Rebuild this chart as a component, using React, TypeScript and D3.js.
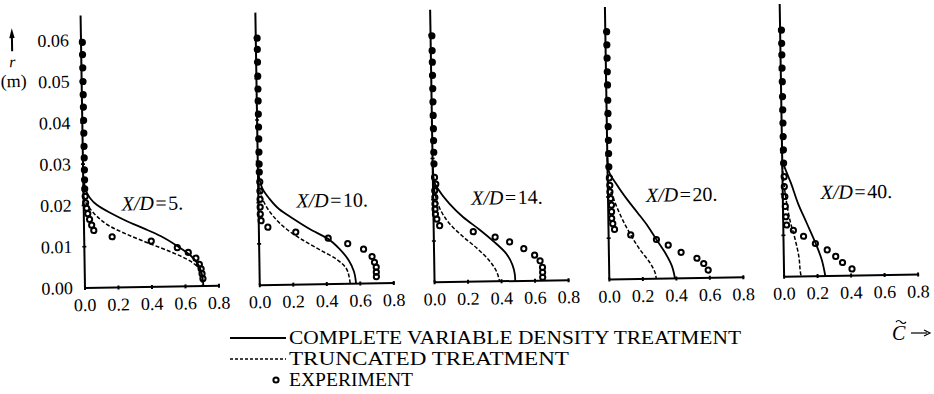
import React from "react";
import * as d3 from "d3";

// Axial stations (X/D) shown in the five panels
const stations = ["5.", "10.", "14.", "20.", "40."];
const xTicks = [0, 0.2, 0.4, 0.6, 0.8];
const rTicks = [0, 0.01, 0.02, 0.03, 0.04, 0.05, 0.06];

// [C~, r (m)] pairs
const complete5 = [[0, 0.027], [0.018, 0.0233], [0.078, 0.0201], [0.157, 0.0181], [0.257, 0.016], [0.356, 0.0142], [0.456, 0.0123], [0.555, 0.0098], [0.635, 0.0074], [0.679, 0.0052], [0.7, 0.0027], [0.707, 0]];
const truncated5 = [[0, 0.025], [0.002, 0.022], [0.028, 0.0197], [0.078, 0.0173], [0.157, 0.0148], [0.257, 0.0128], [0.396, 0.0104], [0.516, 0.0084], [0.635, 0.006], [0.685, 0.004], [0.699, 0.0019], [0.7, 0]];
const experiment5 = [[0.008, 0.0595], [0.008, 0.0565], [0.008, 0.0533], [0.008, 0.05], [0.008, 0.0468], [0.008, 0.0438], [0.008, 0.0406], [0.008, 0.0375], [0.008, 0.0343], [0.008, 0.0315], [0.008, 0.0286], [0.008, 0.0262], [0.008, 0.024], [0.01, 0.0222], [0.012, 0.0206], [0.018, 0.0193], [0.024, 0.018], [0.034, 0.0166], [0.046, 0.0152], [0.058, 0.0139], [0.167, 0.0123], [0.4, 0.0111], [0.555, 0.0094], [0.62, 0.0082], [0.665, 0.0068], [0.685, 0.0053], [0.695, 0.0042], [0.7, 0.003], [0.705, 0.0018]];

const complete10 = [[0, 0.028], [0.024, 0.0235], [0.064, 0.021], [0.124, 0.0183], [0.204, 0.016], [0.303, 0.0134], [0.41, 0.011], [0.483, 0.0083], [0.533, 0.0057], [0.563, 0.003], [0.575, 0]];
const truncated10 = [[0, 0.026], [0.008, 0.0232], [0.034, 0.02], [0.084, 0.0168], [0.164, 0.0135], [0.263, 0.0107], [0.363, 0.0083], [0.463, 0.0059], [0.515, 0.0039], [0.535, 0.0015], [0.54, 0]];
const experiment10 = [[0.008, 0.0598], [0.008, 0.0571], [0.008, 0.054], [0.008, 0.0506], [0.008, 0.0475], [0.008, 0.0446], [0.008, 0.0414], [0.008, 0.0383], [0.008, 0.0354], [0.008, 0.0322], [0.008, 0.0293], [0.008, 0.0274], [0.01, 0.025], [0.01, 0.0228], [0.01, 0.0208], [0.01, 0.0189], [0.01, 0.0172], [0.014, 0.0156], [0.054, 0.014], [0.22, 0.0127], [0.413, 0.0111], [0.529, 0.0097], [0.623, 0.0083], [0.673, 0.0065], [0.687, 0.0051], [0.697, 0.0039], [0.697, 0.0027], [0.697, 0.0016]];

const complete14 = [[0, 0.029], [0.006, 0.0246], [0.036, 0.0222], [0.096, 0.019], [0.176, 0.0157], [0.276, 0.0125], [0.356, 0.0097], [0.426, 0.0069], [0.466, 0.004], [0.48, 0.0016], [0.482, 0]];
const truncated14 = [[0, 0.027], [0.012, 0.0214], [0.036, 0.0181], [0.096, 0.0141], [0.176, 0.0109], [0.256, 0.0081], [0.326, 0.0052], [0.366, 0.0028], [0.386, 0.0004], [0.388, 0]];
const experiment14 = [[0.008, 0.0597], [0.008, 0.0561], [0.008, 0.0533], [0.008, 0.0501], [0.008, 0.0469], [0.008, 0.0437], [0.008, 0.0404], [0.008, 0.0372], [0.008, 0.0343], [0.008, 0.0315], [0.008, 0.0287], [0.01, 0.0254], [0.017, 0.0238], [0.01, 0.0222], [0.01, 0.0206], [0.01, 0.019], [0.01, 0.0177], [0.012, 0.0165], [0.02, 0.0153], [0.036, 0.0137], [0.236, 0.0121], [0.366, 0.0107], [0.452, 0.0095], [0.536, 0.0078], [0.6, 0.0062], [0.632, 0.0048], [0.646, 0.0032], [0.646, 0.002], [0.646, 0.0008]];

const complete20 = [[0, 0.0295], [0.006, 0.0265], [0.056, 0.0228], [0.116, 0.0192], [0.176, 0.016], [0.236, 0.0127], [0.285, 0.0095], [0.335, 0.0063], [0.375, 0.003], [0.392, 0]];
const truncated20 = [[0, 0.027], [0.006, 0.0232], [0.036, 0.0192], [0.076, 0.0152], [0.132, 0.0107], [0.186, 0.0071], [0.25, 0.0035], [0.275, 0.0013], [0.28, 0]];
const experiment20 = [[0.008, 0.06], [0.008, 0.0568], [0.008, 0.0536], [0.008, 0.0503], [0.008, 0.0471], [0.008, 0.0434], [0.008, 0.0402], [0.008, 0.037], [0.008, 0.0337], [0.008, 0.0305], [0.008, 0.0273], [0.01, 0.0246], [0.012, 0.0228], [0.012, 0.0212], [0.016, 0.0196], [0.02, 0.018], [0.02, 0.0164], [0.02, 0.0148], [0.026, 0.0135], [0.036, 0.0121], [0.132, 0.0107], [0.285, 0.0095], [0.355, 0.0081], [0.431, 0.0063], [0.525, 0.0048], [0.565, 0.0035], [0.591, 0.0019]];

const complete40 = [[0, 0.028], [0.02, 0.0258], [0.05, 0.0226], [0.09, 0.0177], [0.14, 0.0129], [0.19, 0.0081], [0.226, 0.004], [0.246, 0]];
const truncated40 = [[0, 0.027], [0.006, 0.0234], [0.02, 0.0185], [0.04, 0.0137], [0.07, 0.0089], [0.09, 0.0048], [0.1, 0.0004], [0.102, 0]];
const experiment40 = [[0.008, 0.0597], [0.008, 0.0565], [0.008, 0.0537], [0.008, 0.0505], [0.008, 0.0472], [0.008, 0.0436], [0.008, 0.0404], [0.008, 0.0372], [0.008, 0.0339], [0.008, 0.0307], [0.008, 0.0275], [0.01, 0.0242], [0.01, 0.0218], [0.012, 0.0194], [0.014, 0.017], [0.016, 0.0145], [0.02, 0.0125], [0.06, 0.0112], [0.12, 0.0097], [0.19, 0.0079], [0.26, 0.0063], [0.31, 0.0047], [0.35, 0.0032], [0.406, 0.0016]];

const legendLabels = ["COMPLETE VARIABLE DENSITY TREATMENT", "TRUNCATED TREATMENT", "EXPERIMENT"];

const panels = [
  { station: stations[0], complete: complete5, truncated: truncated5, experiment: experiment5 },
  { station: stations[1], complete: complete10, truncated: truncated10, experiment: experiment10 },
  { station: stations[2], complete: complete14, truncated: truncated14, experiment: experiment14 },
  { station: stations[3], complete: complete20, truncated: truncated20, experiment: experiment20 },
  { station: stations[4], complete: complete40, truncated: truncated40, experiment: experiment40 },
];

const W = 934;
const H = 394;
const FONT = '"Liberation Serif", serif';
const ORIGIN_X = 85;
const BASE_Y = 288;
const PANEL_STEP = 174.8;
const PANEL_W = 134;
const PX_PER_M = 4130;
const R_MAX = 0.066;
const DOT_R = 2.6;
const DOT_W = 2;

function Panel({ p, i }: { p: any; i: number }) {
  const ox = ORIGIN_X + i * PANEL_STEP;
  const x = d3.scaleLinear().domain([0, 0.8]).range([ox, ox + PANEL_W]);
  const y = d3.scaleLinear().domain([0, R_MAX]).range([BASE_Y, BASE_Y - R_MAX * PX_PER_M]);
  const line = d3
    .line<number[]>()
    .x((d) => x(d[0]))
    .y((d) => y(d[1]))
    .curve(d3.curveMonotoneY);
  const fx = d3.format(".1f");
  const fy = d3.format(".2f");
  return (
    <g>
      {/* axes */}
      <line x1={x(0)} x2={x(0)} y1={y(0)} y2={y(R_MAX)} stroke="#000" strokeWidth={2} />
      <line x1={x(0)} x2={x(0.8) + 1} y1={y(0)} y2={y(0)} stroke="#000" strokeWidth={2} />
      {xTicks.map((t) => (
        <g key={"xt" + t}>
          <line x1={x(t)} x2={x(t)} y1={y(0) - 2} y2={y(0) + 2} stroke="#000" strokeWidth={2} />
          <text x={x(t)} y={y(0) + 23} textAnchor="middle" fontSize={18}>
            {fx(t)}
          </text>
        </g>
      ))}
      {rTicks.slice(1).map((t) => (
        <line key={"yt" + t} x1={x(0) - 2} x2={x(0) + 2} y1={y(t)} y2={y(t)} stroke="#000" strokeWidth={1.6} />
      ))}
      {i === 0 &&
        rTicks.map((t) => (
          <text key={"yl" + t} x={x(0) - 12} y={y(t) + 6} textAnchor="end" fontSize={18}>
            {fy(t)}
          </text>
        ))}
      {/* model curves */}
      <path d={line(p.complete) || ""} fill="none" stroke="#000" strokeWidth={1.8} />
      <path d={line(p.truncated) || ""} fill="none" stroke="#000" strokeWidth={1.5} strokeDasharray="4,2" />
      {/* measurements; points lying on the axis merge into solid dots */}
      {p.experiment.map((d: number[], k: number) => {
        const cx = x(d[0]);
        const onAxis = cx - x(0) < 1.6;
        return (
          <circle
            key={k}
            cx={cx}
            cy={y(d[1])}
            r={DOT_R}
            fill={onAxis ? "#000" : "none"}
            stroke="#000"
            strokeWidth={DOT_W}
          />
        );
      })}
      {/* station label */}
      <text x={x(0) + 38} y={y(0) - 77} fontSize={20}>
        <tspan fontStyle="italic">X/D</tspan>
        <tspan dx={1.5}>=</tspan>
        <tspan dx={1.5}>{p.station}</tspan>
      </text>
    </g>
  );
}

export default function App() {
  return (
    <svg
      width={W}
      height={H}
      viewBox={`0 0 ${W} ${H}`}
      style={{ position: "absolute", left: 0, top: 0, background: "#fff", fontFamily: FONT }}
    >
      <g transform={`rotate(-0.93 ${ORIGIN_X} ${BASE_Y})`}>
        {panels.map((p, i) => (
          <Panel key={i} p={p} i={i} />
        ))}
        {/* radial coordinate title */}
        <line x1={16} x2={16} y1={50} y2={35} stroke="#000" strokeWidth={2} />
        <path d="M13.3,37 L16,27 L18.7,37 Z" fill="#000" />
        <text x={16} y={66} textAnchor="middle" fontSize={16} fontStyle="italic">
          r
        </text>
        <text x={17} y={86} textAnchor="middle" fontSize={18}>
          (m)
        </text>
      </g>
      {/* concentration axis title */}
      <text x={892} y={340} fontSize={20} fontStyle="italic">
        C
      </text>
      <path d="M896,322 q2.5,-3 5,0 t5,0" fill="none" stroke="#000" strokeWidth={1.2} />
      <line x1={911} x2={927} y1={333} y2={333} stroke="#000" strokeWidth={1.2} />
      <path d="M924,330 L930,333 L924,336" fill="none" stroke="#000" strokeWidth={1.2} />
      {/* legend */}
      <g fontSize={19}>
        <line x1={230} x2={286} y1={338} y2={338} stroke="#000" strokeWidth={1.8} />
        <text x={289} y={344} textLength={452} lengthAdjust="spacingAndGlyphs">
          {legendLabels[0]}
        </text>
        <line x1={230} x2={286} y1={359} y2={359} stroke="#000" strokeWidth={1.5} strokeDasharray="3,2" />
        <text x={289} y={365} textLength={280} lengthAdjust="spacingAndGlyphs">
          {legendLabels[1]}
        </text>
        <circle cx={276} cy={380} r={DOT_R} fill="none" stroke="#000" strokeWidth={DOT_W} />
        <text x={289} y={386} textLength={124} lengthAdjust="spacingAndGlyphs">
          {legendLabels[2]}
        </text>
      </g>
    </svg>
  );
}
